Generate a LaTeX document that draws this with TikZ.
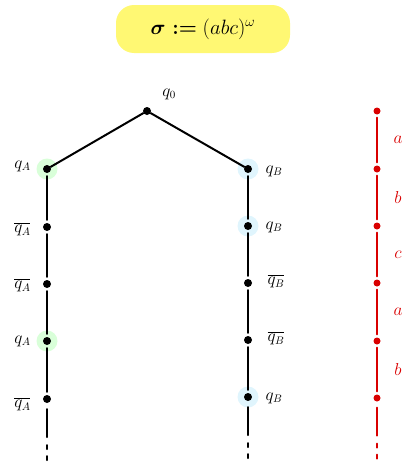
\documentclass[tikz,border=0pt]{standalone}
\usepackage{amsmath,amssymb}
\usetikzlibrary{backgrounds,calc}

\begin{document}
\begin{tikzpicture}
  [
  x=1pt, y=-1pt,
  state/.style={circle, fill=black, inner sep=0pt, minimum size=8pt},
  letter/.style={circle, fill=red!85!black, inner sep=0pt, minimum size=7pt},
  halo/.style={circle, fill=#1, inner sep=0pt, minimum size=21pt},
  run/.style={line width=2pt, line cap=round},
  seg/.style={run, shorten >=3pt, shorten <=3pt},
  word/.style={run, red!85!black, shorten >=3pt, shorten <=3pt},
  tail/.style={run, shorten <=6pt, dash pattern=on 28pt off 8pt on 4pt off 7pt on 4pt off 6pt},
  lbl/.style={font=\fontsize{16}{18}\selectfont},
  sym/.style={font=\fontsize{19}{22}\selectfont, text=red!85!black}
  ]
  \useasboundingbox (0,0) rectangle (405,463);

  % the word
  \node[fill=yellow!55, rounded corners=18pt, minimum width=174pt, minimum height=48pt]
    (title) at (203,29) {\fontsize{22}{26}\selectfont $\boldsymbol{\sigma :=} (abc)^{\omega}$};

  % root and the two runs
  \node[state] (q0) at (147,111) {};
  \node[lbl] (q0lbl) at (169,94) {$q_0$};

  \foreach \i/\y in {1/169,2/227,3/284,4/341,5/399}
    \node[state] (a\i) at (47,\y) {};
  \foreach \i/\y in {1/169,2/226,3/283,4/340,5/397}
    \node[state] (b\i) at (248,\y) {};
  \coordinate (aend) at (47,462);
  \coordinate (bend) at (248,462);

  \begin{scope}[on background layer]
    \node[halo=green!15] at (a1) {};
    \node[halo=green!15] at (a4) {};
    \node[halo=cyan!12] at (b1) {};
    \node[halo=cyan!12] at (b2) {};
    \node[halo=cyan!12] at (b5) {};
  \end{scope}

  \draw[run] (q0) -- (a1);
  \draw[run] (q0) -- (b1);
  \foreach \i/\j in {1/2,2/3,3/4,4/5} {
    \draw[seg] (a\i) -- (a\j);
    \draw[seg] (b\i) -- (b\j);
  }
  \draw[tail] (a5) -- (aend);
  \draw[tail] (b5) -- (bend);

  % state labels
  \node[lbl, anchor=east] at (34,166) {$q_A$};
  \node[lbl, anchor=east] at (34,229) {$\overline{q_A}$};
  \node[lbl, anchor=east] at (34,285) {$\overline{q_A}$};
  \node[lbl, anchor=east] at (34,341) {$q_A$};
  \node[lbl, anchor=east] at (34,404) {$\overline{q_A}$};
  \node[lbl, anchor=west] at (262,171) {$q_B$};
  \node[lbl, anchor=west] at (262,227) {$q_B$};
  \node[lbl, anchor=west] at (264,281) {$\overline{q_B}$};
  \node[lbl, anchor=west] at (264,338) {$\overline{q_B}$};
  \node[lbl, anchor=west] at (262,398) {$q_B$};

  % letters read
  \foreach \i/\y in {0/111,1/169,2/226,3/283,4/341,5/398}
    \node[letter] (w\i) at (377,\y) {};
  \coordinate (wend) at (377,460);
  \foreach \i/\j/\c in {0/1/a,1/2/b,2/3/c,3/4/a,4/5/b} {
    \draw[word] (w\i) -- (w\j);
    \node[sym] at ($ (w\i)!0.5!(w\j) + (21,0) $) {$\c$};
  }
  \draw[tail, red!85!black] (w5) -- (wend);
\end{tikzpicture}
\end{document}
